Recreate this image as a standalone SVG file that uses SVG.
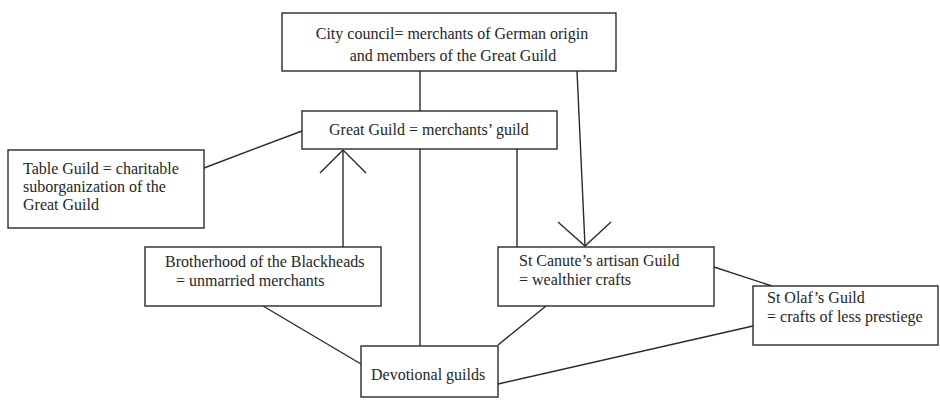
<svg xmlns="http://www.w3.org/2000/svg" width="940" height="400" viewBox="0 0 940 400">
<style>
.box{fill:#fff;stroke:#2a2a2a;stroke-width:1.4}
.ln{fill:none;stroke:#2a2a2a;stroke-width:1.4}
</style>
<rect width="940" height="400" fill="#fff"/>
<g id="connectors">
<line class="ln" x1="420" y1="71" x2="420" y2="111"/>
<line class="ln" x1="420" y1="149" x2="420" y2="346"/>
<line class="ln" x1="517" y1="149" x2="517" y2="247"/>
<line class="ln" x1="577" y1="71" x2="585" y2="246"/>
<polyline class="ln" points="558,222 585,246 611,222"/>
<line class="ln" x1="343" y1="247" x2="343" y2="150"/>
<polyline class="ln" points="320,173 343,150 366,173"/>
<line class="ln" x1="204" y1="168" x2="302" y2="131"/>
<line class="ln" x1="263" y1="306" x2="361" y2="364"/>
<line class="ln" x1="546" y1="306" x2="498" y2="345"/>
<line class="ln" x1="714" y1="267" x2="772" y2="286"/>
<line class="ln" x1="753" y1="326" x2="498" y2="384"/>
</g>
<g font-family="Liberation Serif, serif" font-size="16" fill="#262626">
<g id="city-council">
<rect class="box" x="282" y="13" width="334" height="58"/>
<text x="452" y="39" text-anchor="middle">City council= merchants of German origin</text>
<text x="453" y="61" text-anchor="middle">and members of the Great Guild</text>
</g>
<g id="great-guild">
<rect class="box" x="302" y="111" width="255" height="38"/>
<text x="329" y="135">Great Guild = merchants’  guild</text>
</g>
<g id="table-guild">
<rect class="box" x="8" y="150" width="196" height="78"/>
<text x="23" y="174">Table Guild = charitable</text>
<text x="23" y="192">suborganization of the</text>
<text x="23" y="210">Great Guild</text>
</g>
<g id="brotherhood">
<rect class="box" x="145" y="247" width="236" height="59"/>
<text x="165" y="267">Brotherhood of the Blackheads</text>
<text x="176" y="286">= unmarried merchants</text>
</g>
<g id="st-canute">
<rect class="box" x="498" y="247" width="216" height="59"/>
<text x="519" y="266">St Canute’s artisan Guild</text>
<text x="519" y="285">= wealthier crafts</text>
</g>
<g id="st-olaf">
<rect class="box" x="753" y="286" width="185" height="59"/>
<text x="767" y="303">St Olaf’s Guild</text>
<text x="767" y="322">= crafts of less prestiege</text>
</g>
<g id="devotional">
<rect class="box" x="361" y="346" width="137" height="51"/>
<text x="371" y="380">Devotional guilds</text>
</g>
</g>
</svg>
